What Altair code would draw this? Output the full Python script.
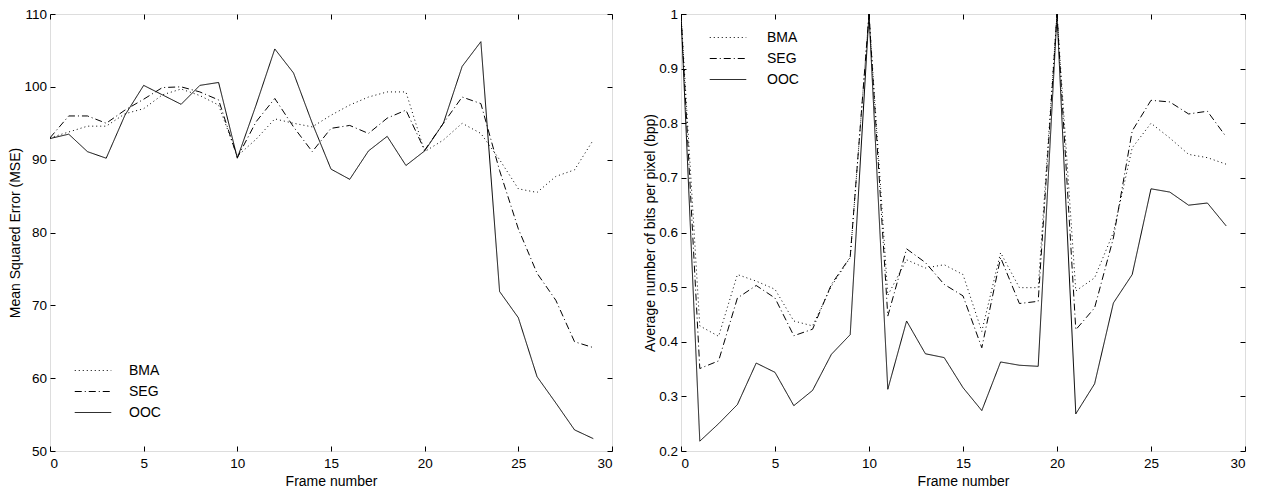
import altair as alt
import pandas as pd

frames = list(range(30))
methods = ["BMA", "SEG", "OOC"]

mse_bma = [93.0, 93.8, 94.6, 94.6, 96.3, 97.0, 98.9, 99.7, 98.8, 97.5,
           90.5, 92.8, 95.6, 95.0, 94.5, 96.1, 97.5, 98.6, 99.3, 99.3,
           91.1, 92.7, 95.0, 93.6, 90.0, 86.0, 85.5, 87.7, 88.6, 92.7]
mse_seg = [93.0, 96.0, 96.0, 95.0, 96.8, 98.3, 99.9, 100.0, 99.3, 98.2,
           90.3, 95.2, 98.4, 94.5, 91.1, 94.3, 94.7, 93.6, 95.7, 96.8,
           91.3, 95.0, 98.6, 97.7, 88.5, 80.5, 74.4, 70.7, 65.0, 64.2]
mse_ooc = [92.9, 93.5, 91.1, 90.2, 96.1, 100.2, 98.9, 97.6, 100.2, 100.6,
           90.2, 97.5, 105.2, 101.9, 95.0, 88.7, 87.3, 91.2, 93.2, 89.2,
           91.2, 95.0, 102.8, 106.2, 71.9, 68.3, 60.2, 56.6, 52.9, 51.7]

bpp_bma = [1.0, 0.429, 0.41, 0.523, 0.511, 0.496, 0.438, 0.429, 0.502, 0.554,
           1.0, 0.485, 0.55, 0.535, 0.541, 0.523, 0.419, 0.563, 0.499, 0.499,
           1.0, 0.493, 0.517, 0.60, 0.755, 0.80, 0.773, 0.743, 0.737, 0.725]
bpp_seg = [1.0, 0.351, 0.365, 0.48, 0.503, 0.48, 0.411, 0.423, 0.505, 0.555,
           1.0, 0.447, 0.57, 0.545, 0.505, 0.484, 0.389, 0.554, 0.47, 0.474,
           1.0, 0.422, 0.462, 0.59, 0.786, 0.842, 0.839, 0.817, 0.822, 0.775]
bpp_ooc = [1.0, 0.218, 0.25, 0.285, 0.361, 0.344, 0.283, 0.311, 0.377, 0.413,
           1.0, 0.313, 0.438, 0.378, 0.371, 0.316, 0.274, 0.363, 0.357, 0.355,
           1.0, 0.268, 0.323, 0.471, 0.523, 0.68, 0.674, 0.65, 0.654, 0.612]

x_ticks = [0, 5, 10, 15, 20, 25, 30]
mse_ticks = [50, 60, 70, 80, 90, 100, 110]
bpp_ticks = [0.2, 0.3, 0.4, 0.5, 0.6, 0.7, 0.8, 0.9, 1.0]

FONT = "Liberation Sans"
LABEL_SIZE = 13.5
TITLE_SIZE = 14


def long_table(bma, seg, ooc):
    rows = []
    for name, vals in zip(methods, (bma, seg, ooc)):
        for f, v in zip(frames, vals):
            rows.append({"frame": f, "value": v, "method": name})
    return pd.DataFrame(rows)


dash_scale = alt.Scale(domain=methods, range=[[1, 3], [7, 3, 1, 3], [1, 0]])


def panel(df, ytitle, ydomain, yticks, yfmt, legend_x, legend_y, label_off, w, h):
    xs = alt.Scale(domain=[0, 30], nice=False, zero=False)
    ys = alt.Scale(domain=ydomain, nice=False, zero=False)
    common = dict(tickColor="black", domain=False, grid=False,
                  labelFont=FONT, titleFont=FONT, labelFontSize=LABEL_SIZE,
                  titleFontSize=TITLE_SIZE, titleFontWeight="normal",
                  labelColor="black", titleColor="black", offset=-5, tickSize=5)
    lines = alt.Chart(df).mark_line(color="black", strokeWidth=1, clip=True).encode(
        x=alt.X("frame:Q", scale=xs,
                axis=alt.Axis(values=x_ticks, title="Frame number", orient="bottom",
                              labelPadding=5, titlePadding=5, **common)),
        y=alt.Y("value:Q", scale=ys,
                axis=alt.Axis(values=yticks, title=ytitle, orient="left", format=yfmt,
                              labelPadding=3.5, titlePadding=1, minExtent=0, **common)),
        strokeDash=alt.StrokeDash(
            "method:N", scale=dash_scale,
            legend=alt.Legend(title=None, orient="none", legendX=legend_x, legendY=legend_y,
                              symbolType="stroke", symbolSize=1332, symbolStrokeWidth=1,
                              symbolStrokeColor="black", labelFont=FONT, labelFontSize=14,
                              labelColor="black", labelOffset=label_off, rowPadding=0,
                              clipHeight=21, padding=0)),
    )
    frame_ticks = alt.Chart(df).mark_point(opacity=0).encode(
        x=alt.X("frame:Q", scale=xs,
                axis=alt.Axis(values=x_ticks, title=None, orient="top", labels=False,
                              offset=-5, tickSize=5, tickColor="black", domain=False,
                              grid=False, minExtent=0)),
        y=alt.Y("value:Q", scale=ys,
                axis=alt.Axis(values=yticks, title=None, orient="right", labels=False,
                              offset=-5, tickSize=5, tickColor="black", domain=False,
                              grid=False, minExtent=0)),
    )
    return alt.layer(lines, frame_ticks).resolve_axis(
        x="independent", y="independent").properties(width=w, height=h)


left = panel(long_table(mse_bma, mse_seg, mse_ooc), "Mean Squared Error (MSE)",
             [50, 110], mse_ticks, "d", 24, 346, 17, 562, 437)
right = panel(long_table(bpp_bma, bpp_seg, bpp_ooc), "Average number of bits per pixel (bpp)",
              [0.2, 1.0], bpp_ticks, ".1~f", 28, 13, 20, 564, 437)

chart = alt.hconcat(left, right, spacing=30).resolve_scale(
    x="independent", y="independent", strokeDash="independent"
).properties(padding={"left": 0, "top": -2, "right": 0, "bottom": 0}).configure_view(
    stroke="black", strokeWidth=1).configure(background="white")

chart.save("out.html", embed_options={"renderer": "svg", "actions": False})
